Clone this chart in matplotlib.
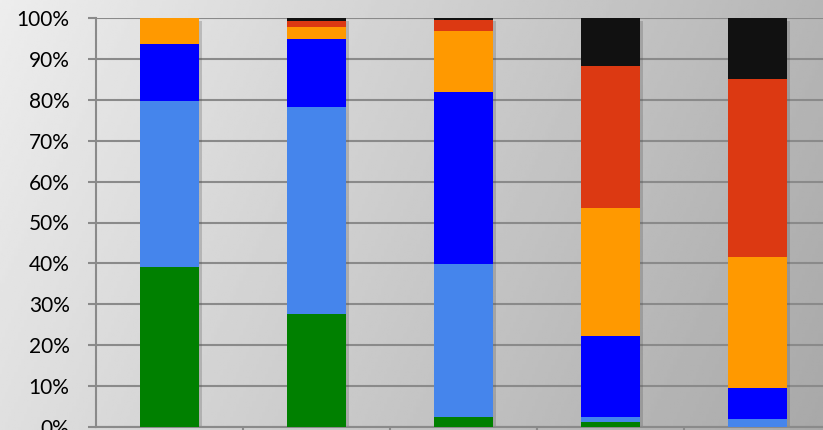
import numpy as np
import matplotlib.pyplot as plt
import matplotlib.patheffects as pe
from matplotlib.ticker import PercentFormatter

plt.rcParams['font.family'] = ['Lato', 'DejaVu Sans']

# доли по категориям (в процентах), снизу вверх
categories = ['1', '2', '3', '4', '5']
green = [39.0, 27.6, 2.4, 1.3, 0.0]
light_blue = [40.7, 50.6, 37.4, 1.1, 1.9]
blue = [13.9, 16.7, 42.1, 19.8, 7.6]
orange = [6.4, 2.9, 14.9, 31.3, 32.1]
red = [0.0, 1.5, 2.8, 34.8, 43.5]
black = [0.0, 0.7, 0.4, 11.7, 14.9]

series = [green, light_blue, blue, orange, red, black]
colors = ['#008000', '#4585EC', '#0000FF', '#FF9900', '#DC3912', '#111111']

fig = plt.figure(figsize=(8.23, 4.30), dpi=100)

# фон с градиентом
bg = fig.add_axes([0, 0, 1, 1], zorder=-10)
grad = np.linspace(0, 1, 256)
gx, gy = np.meshgrid(grad, grad)
shade = 0.93 - 0.27 * (0.8 * gx + 0.2 * gy)
bg.imshow(shade, cmap='gray', vmin=0, vmax=1, aspect='auto', extent=[0, 1, 0, 1], origin='upper')
bg.axis('off')

ax = fig.add_axes([96 / 823, 3 / 430, 735 / 823, 409 / 430])
ax.patch.set_alpha(0)

x = np.arange(len(categories))
totals = np.sum(series, axis=0)

# тень под столбцами
shadow = ax.bar(x, totals, 0.4, color='none', zorder=2)
for b in shadow:
    b.set_path_effects([pe.SimplePatchShadow(offset=(2, -2), alpha=0.25)])

bottom = np.zeros(len(categories))
for vals, c in zip(series, colors):
    ax.bar(x, vals, 0.4, bottom=bottom, color=c, zorder=3)
    bottom += np.array(vals)

ax.set_xlim(-0.5, len(categories) - 0.5)
ax.set_ylim(0, 100)
ax.set_yticks(np.arange(0, 101, 10))
ax.yaxis.set_major_formatter(PercentFormatter(decimals=0))
ax.set_xticks(np.arange(0.5, len(categories) - 0.5, 1))
ax.set_xticklabels([])
ax.grid(axis='y', color='#8a8a8a', linewidth=1.5, zorder=1)
ax.tick_params(axis='y', length=6, width=1.5, color='#8a8a8a', labelsize=15, pad=13)
ax.tick_params(axis='x', length=6, width=1.5, color='#8a8a8a')
for s in ['top', 'right']:
    ax.spines[s].set_visible(False)
for s in ['left', 'bottom']:
    ax.spines[s].set_color('#8a8a8a')
    ax.spines[s].set_linewidth(1.5)

plt.savefig('out.png', dpi=100)
